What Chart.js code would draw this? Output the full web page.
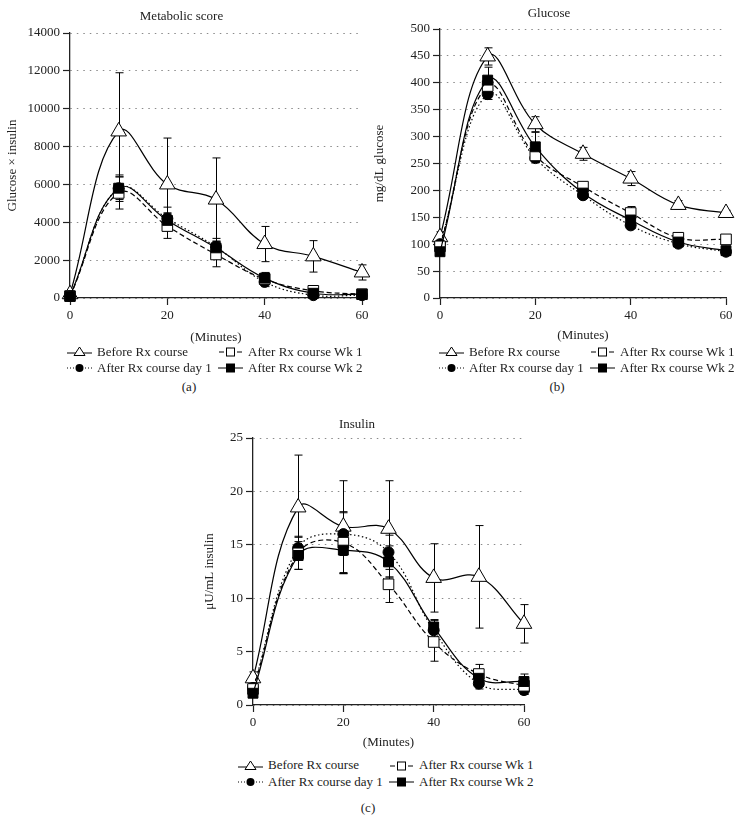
<!DOCTYPE html>
<html>
<head>
<meta charset="utf-8">
<script src="https://cdn.jsdelivr.net/npm/chart.js@4.4.1/dist/chart.umd.min.js"></script>
<style>
    body { margin: 0; background: #fff; width: 743px; height: 834px; position: relative; overflow: hidden;
           font-family: 'Liberation Serif', 'DejaVu Serif', serif; color: #222; }
    canvas { position: absolute; }
    .legend { position: absolute; display: grid; grid-template-columns: 151px auto; font-size: 13px; }
    .item { display: flex; align-items: center; white-space: nowrap; }
    .item svg { margin-right: 5px; flex: none; }
    .tag { position: absolute; font-size: 13px; transform: translate(-50%, -50%); }
</style>
</head>
<body>
<canvas id="chart-a" width="372" height="345" style="left:0;top:0"></canvas>
<canvas id="chart-b" width="371" height="345" style="left:372px;top:0"></canvas>
<canvas id="chart-c" width="360" height="345" style="left:190px;top:410px"></canvas>

<div class="legend" id="legend-a" style="left:67px;top:344px;line-height:15.6px"></div>
<div class="legend" id="legend-b" style="left:439px;top:344px;line-height:15.6px"></div>
<div class="legend" id="legend-c" style="left:238px;top:757px;line-height:16.6px"></div>

<div class="tag" style="left:189px;top:387px">(a)</div>
<div class="tag" style="left:557px;top:387px">(b)</div>
<div class="tag" style="left:368px;top:808px">(c)</div>

<script>
// osa x a popisky
const minutes = [0, 10, 20, 30, 40, 50, 60];
const xTicks = [0, 20, 40, 60];
const seriesNames = ['Before Rx course', 'After Rx course day 1', 'After Rx course Wk 1', 'After Rx course Wk 2'];

// (a) Metabolic score
const scoreTicks = [0, 2000, 4000, 6000, 8000, 10000, 12000, 14000];
const scoreBefore = [200, 8800, 6000, 5200, 2850, 2200, 1350];
const scoreBeforeSd = [100, 3100, 2450, 2200, 930, 830, 400];
const scoreDay1 = [100, 5800, 4200, 2700, 850, 150, 150];
const scoreDay1Sd = [50, 600, 600, 450, 250, 80, 50];
const scoreWk1 = [100, 5550, 3800, 2300, 1000, 380, 200];
const scoreWk1Sd = [50, 850, 650, 650, 300, 120, 50];
const scoreWk2 = [100, 5800, 4100, 2650, 1050, 250, 200];
const scoreWk2Sd = [50, 700, 400, 350, 300, 100, 50];

// (b) Glucose
const glucoseTicks = [0, 50, 100, 150, 200, 250, 300, 350, 400, 450, 500];
const glucoseBefore = [113, 449, 323, 268, 222, 173, 158];
const glucoseBeforeSd = [10, 16, 14, 12, 13, 8, 5];
const glucoseDay1 = [100, 379, 260, 191, 135, 101, 86];
const glucoseDay1Sd = [5, 10, 8, 6, 6, 4, 3];
const glucoseWk1 = [96, 394, 265, 207, 158, 112, 109];
const glucoseWk1Sd = [6, 12, 10, 8, 12, 6, 5];
const glucoseWk2 = [86, 405, 281, 195, 145, 104, 88];
const glucoseWk2Sd = [5, 24, 27, 8, 10, 5, 4];

// (c) Insulin
const insulinTicks = [0, 5, 10, 15, 20, 25];
const insulinBefore = [2.5, 18.5, 16.7, 16.5, 11.9, 12.0, 7.6];
const insulinBeforeSd = [0.6, 4.9, 4.3, 4.5, 3.2, 4.8, 1.8];
const insulinDay1 = [1.6, 14.7, 16.0, 14.3, 7.0, 2.0, 1.4];
const insulinDay1Sd = [0.4, 1.1, 2.0, 1.6, 1.0, 0.5, 0.4];
const insulinWk1 = [1.5, 14.2, 15.2, 11.3, 5.9, 2.9, 1.8];
const insulinWk1Sd = [0.4, 1.5, 2.9, 1.7, 1.8, 0.9, 0.8];
const insulinWk2 = [1.1, 14.0, 14.5, 13.4, 7.3, 2.5, 2.2];
const insulinWk2Sd = [0.3, 1.3, 2.2, 1.5, 0.6, 0.6, 0.7];

// vzhled řad (pořadí jako v legendě)
const seriesStyles = [
    { pointStyle: 'triangle', pointRadius: 9, fill: '#fff', dash: [], order: 3 },
    { pointStyle: 'circle', pointRadius: 5.5, fill: '#000', dash: [1.5, 2.5], order: 2 },
    { pointStyle: 'rect', pointRadius: 7.5, fill: '#fff', dash: [5, 3], order: 1 },
    { pointStyle: 'rect', pointRadius: 7, fill: '#000', dash: [], order: 0 }
];

const legendSymbols = [
    '<line x1="0" y1="8" x2="25" y2="8" stroke="#000"/><polygon points="12.5,2 18,10.5 7,10.5" fill="#fff" stroke="#000"/>',
    '<line x1="0" y1="7" x2="25" y2="7" stroke="#000" stroke-dasharray="1 2"/><circle cx="12.5" cy="7" r="4" fill="#000"/>',
    '<line x1="1" y1="7" x2="6" y2="7" stroke="#000"/><line x1="19" y1="7" x2="24" y2="7" stroke="#000"/><rect x="8.5" y="3" width="8" height="8" fill="#fff" stroke="#000"/>',
    '<line x1="0" y1="7" x2="25" y2="7" stroke="#000"/><rect x="8.5" y="3" width="8" height="8" fill="#000" stroke="#000"/>'
];

// chybové úsečky (průměr ± SD)
const errorBars = {
    id: 'errorBars',
    beforeDatasetsDraw(chart) {
        const { ctx, scales: { x, y } } = chart;
        ctx.save();
        ctx.strokeStyle = '#000';
        ctx.lineWidth = 1;
        chart.data.datasets.forEach(ds => {
            ds.data.forEach((pt, j) => {
                const sd = ds.sd[j];
                if (!sd) return;
                const px = Math.round(x.getPixelForValue(pt.x)) + 0.5;
                const top = y.getPixelForValue(pt.y + sd);
                const bottom = y.getPixelForValue(Math.max(0, pt.y - sd));
                ctx.beginPath();
                ctx.moveTo(px, top);
                ctx.lineTo(px, bottom);
                ctx.moveTo(px - 4, top);
                ctx.lineTo(px + 4, top);
                ctx.moveTo(px - 4, bottom);
                ctx.lineTo(px + 4, bottom);
                ctx.stroke();
            });
        });
        ctx.restore();
    }
};

document.addEventListener('DOMContentLoaded', () => {
    Chart.defaults.font.family = "'Liberation Serif', 'DejaVu Serif', serif";
    Chart.defaults.font.size = 13;
    Chart.defaults.color = '#222';

    makeChart('chart-a', {
        title: 'Metabolic score', yTitle: 'Glucose \u00d7 insulin', yTicks: scoreTicks,
        values: [scoreBefore, scoreDay1, scoreWk1, scoreWk2],
        sds: [scoreBeforeSd, scoreDay1Sd, scoreWk1Sd, scoreWk2Sd],
        padRight: 9, titleTop: 9, titleBottom: 8.4, yWidth: 70, yTitlePad: 5, xHeight: 47, xTitlePad: 0
    });
    makeChart('chart-b', {
        title: 'Glucose', yTitle: 'mg/dL glucose', yTicks: glucoseTicks,
        values: [glucoseBefore, glucoseDay1, glucoseWk1, glucoseWk2],
        sds: [glucoseBeforeSd, glucoseDay1Sd, glucoseWk1Sd, glucoseWk2Sd],
        padRight: 17, titleTop: 6, titleBottom: 7.4, yWidth: 68, yTitlePad: 0, xHeight: 47, xTitlePad: 2
    });
    makeChart('chart-c', {
        title: 'Insulin', yTitle: '\u03bcU/mL insulin', yTicks: insulinTicks,
        values: [insulinBefore, insulinDay1, insulinWk1, insulinWk2],
        sds: [insulinBeforeSd, insulinDay1Sd, insulinWk1Sd, insulinWk2Sd],
        padRight: 26, titleTop: 7.2, titleBottom: 5.2, yWidth: 63, yTitlePad: 12, xHeight: 50, xTitlePad: 5
    });

    ['legend-a', 'legend-b', 'legend-c'].forEach(buildLegend);
});

function buildDatasets(values, sds) {
    return values.map((vals, i) => {
        const st = seriesStyles[i];
        return {
            label: seriesNames[i],
            data: vals.map((v, j) => ({ x: minutes[j], y: v })),
            sd: sds[i],
            borderColor: '#000',
            borderWidth: 1.2,
            borderDash: st.dash,
            tension: 0.4,
            pointStyle: st.pointStyle,
            pointRadius: st.pointRadius,
            pointBackgroundColor: st.fill,
            pointBorderColor: '#000',
            pointBorderWidth: 1,
            order: st.order,
            clip: false
        };
    });
}

function makeChart(id, cfg) {
    new Chart(document.getElementById(id), {
        type: 'line',
        data: { datasets: buildDatasets(cfg.values, cfg.sds) },
        options: {
            responsive: false,
            animation: false,
            events: [],
            layout: { padding: { left: 0, right: cfg.padRight, top: 0, bottom: 0 } },
            plugins: {
                legend: { display: false },
                tooltip: { enabled: false },
                title: {
                    display: true, text: cfg.title, color: '#222',
                    font: { size: 13, weight: 'normal' },
                    padding: { top: cfg.titleTop, bottom: cfg.titleBottom }
                }
            },
            scales: {
                x: {
                    type: 'linear', min: 0, max: 60,
                    afterBuildTicks: s => { s.ticks = xTicks.map(v => ({ value: v })); },
                    afterFit: s => { s.height = cfg.xHeight; },
                    grid: { drawOnChartArea: false, tickLength: 7, tickColor: '#222', tickWidth: 1.2 },
                    border: { color: '#222', width: 1.3 },
                    ticks: { padding: 3, maxRotation: 0, color: '#222' },
                    title: {
                        display: true, text: '(Minutes)', color: '#222',
                        padding: { top: 0, bottom: cfg.xTitlePad }
                    }
                },
                y: {
                    min: 0, max: cfg.yTicks[cfg.yTicks.length - 1],
                    afterBuildTicks: s => { s.ticks = cfg.yTicks.map(v => ({ value: v })); },
                    afterFit: s => { s.width = cfg.yWidth; },
                    grid: { color: '#8a8a8a', lineWidth: 1, tickLength: 7, tickColor: '#222', tickWidth: 1.2 },
                    border: { color: '#222', width: 1.3, dash: [1.5, 5] },
                    ticks: { padding: 3, color: '#222', callback: v => String(v) },
                    title: {
                        display: true, text: cfg.yTitle, color: '#222',
                        padding: { top: cfg.yTitlePad, bottom: 0 }
                    }
                }
            }
        },
        plugins: [errorBars]
    });
}

function buildLegend(id) {
    // sloupce: Before / day 1 vlevo, Wk 1 / Wk 2 vpravo
    const order = [0, 2, 1, 3];
    const box = document.getElementById(id);
    order.forEach(i => {
        const item = document.createElement('div');
        item.className = 'item';
        item.innerHTML = `<svg width="25" height="13">${legendSymbols[i]}</svg><span>${seriesNames[i]}</span>`;
        box.appendChild(item);
    });
}
</script>
</body>
</html>
